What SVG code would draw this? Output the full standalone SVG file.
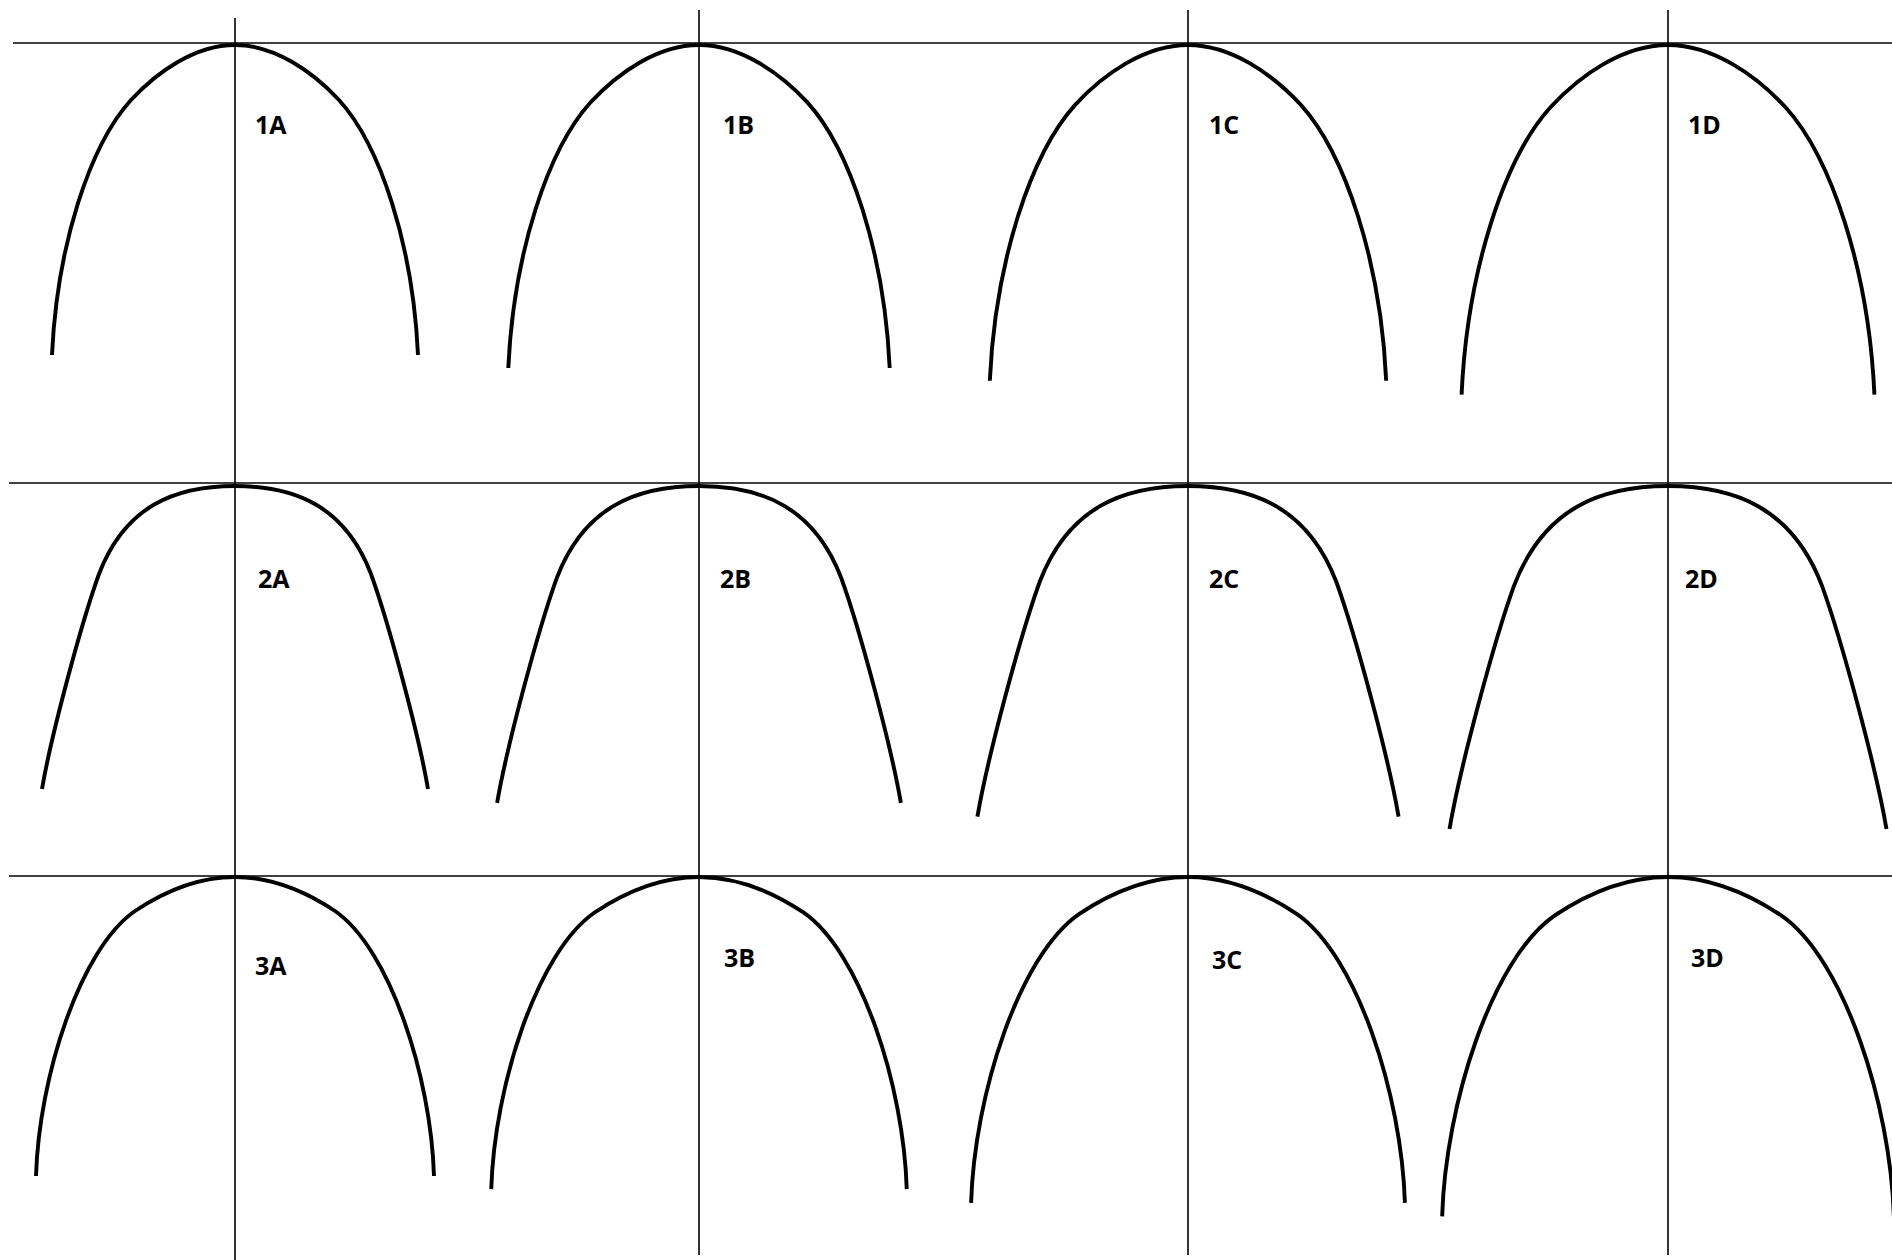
<svg xmlns="http://www.w3.org/2000/svg" xmlns:xlink="http://www.w3.org/1999/xlink" width="1892" height="1260" viewBox="0 0 1892 1260">
<style>
.guide{stroke:#000;stroke-width:1.6;fill:none}
.arch{stroke:#000;stroke-width:3.9;fill:none;stroke-linejoin:round}
.lbl{font-family:"Open Sans","Noto Sans","Liberation Sans",sans-serif;font-weight:700;font-size:25px;fill:#000}
</style>
<defs>
<path id="row1" class="arch" vector-effect="non-scaling-stroke" d="M -183,310 C -178,200 -145,100 -104,55 C -78,27 -40,0 0,0 C 40,0 78,27 104,55 C 145,100 178,200 183,310"/>
<path id="row2" class="arch" vector-effect="non-scaling-stroke" d="M -193,303 C -184,250 -154,138 -136,88 C -110,20 -60,0 0,0 C 60,0 110,20 136,88 C 154,138 184,250 193,303"/>
<path id="row3" class="arch" vector-effect="non-scaling-stroke" d="M -199,299 C -196,200 -155,72 -100,34 C -73,16 -40,0 0,0 C 40,0 73,16 100,34 C 155,72 196,200 199,299"/>
</defs>
<rect width="1892" height="1260" fill="#fff"/>
<g id="guides">
<line class="guide" x1="13" y1="43" x2="1892" y2="43"/>
<line class="guide" x1="9" y1="483" x2="1892" y2="483"/>
<line class="guide" x1="9" y1="876" x2="1892" y2="876"/>
<line class="guide" x1="235" y1="18" x2="235" y2="1260"/>
<line class="guide" x1="699" y1="10" x2="699" y2="1255"/>
<line class="guide" x1="1188" y1="10" x2="1188" y2="1255"/>
<line class="guide" x1="1668" y1="10" x2="1668" y2="1255"/>
</g>
<g id="arch-1A"><use xlink:href="#row1" href="#row1" transform="translate(235,45) scale(1)"/><text class="lbl" x="255" y="134">1A</text></g>
<g id="arch-1B"><use xlink:href="#row1" href="#row1" transform="translate(699,45) scale(1.042)"/><text class="lbl" x="723" y="134">1B</text></g>
<g id="arch-1C"><use xlink:href="#row1" href="#row1" transform="translate(1188,45) scale(1.083)"/><text class="lbl" x="1209" y="134">1C</text></g>
<g id="arch-1D"><use xlink:href="#row1" href="#row1" transform="translate(1668,45) scale(1.128)"/><text class="lbl" x="1688" y="134">1D</text></g>
<g id="arch-2A"><use xlink:href="#row2" href="#row2" transform="translate(235,486) scale(1)"/><text class="lbl" x="258" y="588">2A</text></g>
<g id="arch-2B"><use xlink:href="#row2" href="#row2" transform="translate(699,486) scale(1.046)"/><text class="lbl" x="720" y="588">2B</text></g>
<g id="arch-2C"><use xlink:href="#row2" href="#row2" transform="translate(1188,486) scale(1.091)"/><text class="lbl" x="1209" y="588">2C</text></g>
<g id="arch-2D"><use xlink:href="#row2" href="#row2" transform="translate(1668,486) scale(1.132)"/><text class="lbl" x="1685" y="588">2D</text></g>
<g id="arch-3A"><use xlink:href="#row3" href="#row3" transform="translate(235,877) scale(1)"/><text class="lbl" x="255" y="975">3A</text></g>
<g id="arch-3B"><use xlink:href="#row3" href="#row3" transform="translate(699,877) scale(1.044)"/><text class="lbl" x="724" y="967">3B</text></g>
<g id="arch-3C"><use xlink:href="#row3" href="#row3" transform="translate(1188,877) scale(1.09)"/><text class="lbl" x="1212" y="969">3C</text></g>
<g id="arch-3D"><use xlink:href="#row3" href="#row3" transform="translate(1668,877) scale(1.135)"/><text class="lbl" x="1691" y="967">3D</text></g>
</svg>
